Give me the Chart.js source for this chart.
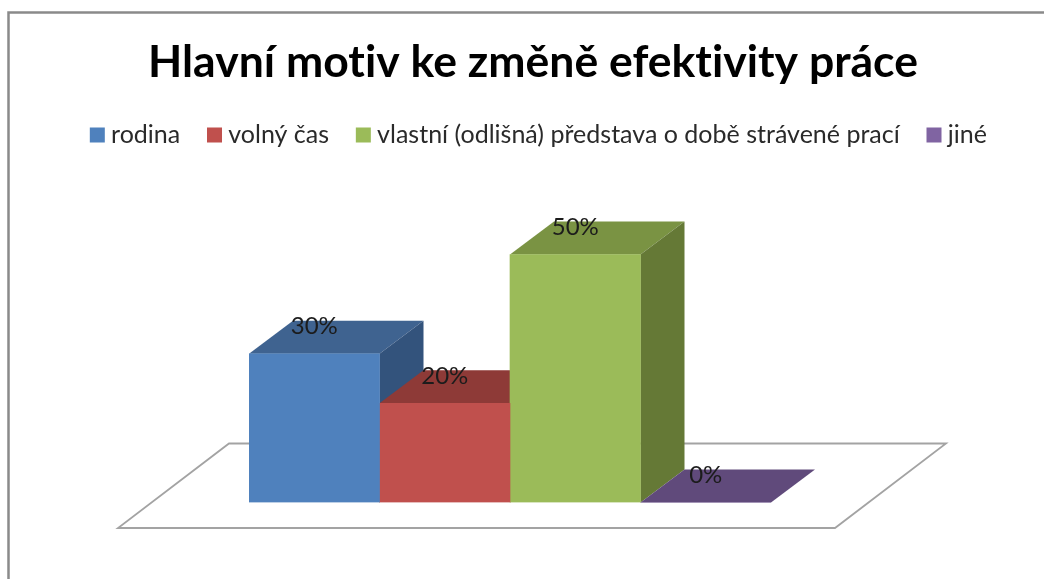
<!DOCTYPE html>
<html lang="cs">
<head>
<meta charset="utf-8">
<title>Hlavní motiv ke změně efektivity práce</title>
<style>
  html, body { margin: 0; padding: 0; background: #fff; overflow: hidden; }
  canvas { display: block; }
</style>
<script src="https://cdn.jsdelivr.net/npm/chart.js@4/dist/chart.umd.min.js"></script>
</head>
<body>
<canvas id="chart" width="1044" height="579"></canvas>
<script>
const chartTitle = 'Hlavní motiv ke změně efektivity práce';
const categories = ['Hlavní motiv'];
const seriesNames = ['rodina', 'volný čas', 'vlastní (odlišná) představa o době strávené prací', 'jiné'];
const seriesValues = [30, 20, 50, 0];
const frontColors = ['#4F81BD', '#C0504D', '#9BBB59', '#8064A2'];
const topColors = ['#3F6390', '#8E3A37', '#7A9343', '#604A7B'];
const sideColors = ['#33537C', '#7A302E', '#657936', '#503D68'];

const FONT = 'Lato, Carlito, Calibri, sans-serif';
const DEPTH_X = 44;
const DEPTH_Y = 33;

function polygon(ctx, pts, fill, stroke, lineWidth) {
  ctx.beginPath();
  pts.forEach(([x, y], i) => (i ? ctx.lineTo(x, y) : ctx.moveTo(x, y)));
  ctx.closePath();
  if (fill) { ctx.fillStyle = fill; ctx.fill(); }
  if (stroke) { ctx.strokeStyle = stroke; ctx.lineWidth = lineWidth; ctx.stroke(); }
}

// A tiny letter spacing keeps the "ti" pairs as separate glyphs instead of a ligature.
const glyphPlugin = {
  id: 'glyphs',
  beforeUpdate(chart) { chart.ctx.letterSpacing = '0.01px'; },
  beforeDraw(chart) { chart.ctx.letterSpacing = '0.01px'; }
};

// Outer frame, open on the right and at the bottom.
const framePlugin = {
  id: 'frame',
  beforeDraw(chart) {
    const { ctx, width, height } = chart;
    ctx.save();
    ctx.fillStyle = '#fff';
    ctx.fillRect(0, 0, width, height);
    ctx.beginPath();
    ctx.moveTo(8.5, height);
    ctx.lineTo(8.5, 12.5);
    ctx.lineTo(width, 12.5);
    ctx.strokeStyle = '#8A8A8A';
    ctx.lineWidth = 2.5;
    ctx.stroke();
    ctx.restore();
  }
};

// Moves the legend row slightly right of the title's centre line.
const legendShiftPlugin = {
  id: 'legendShift',
  afterLayout(chart) {
    chart.legend.left += 8.5;
    chart.legend.right += 8.5;
  }
};

// Floor plane plus the top and side faces of each column; the front faces are the library's bars.
const extrusionPlugin = {
  id: 'extrusion',
  beforeDatasetsDraw(chart) {
    const { ctx, chartArea } = chart;
    const base = chart.scales.y.getPixelForValue(0);
    ctx.save();
    polygon(ctx, [
      [chartArea.left - 131, base + 25.5],
      [chartArea.right + 64, base + 25.5],
      [chartArea.right + 175, base - 59],
      [chartArea.left - 20, base - 59]
    ], '#fff', '#A3A3A3', 1.8);
    seriesValues.forEach((_, i) => {
      const bar = chart.getDatasetMeta(i).data[0];
      const left = bar.x - bar.width / 2;
      const right = bar.x + bar.width / 2;
      polygon(ctx, [
        [left, bar.y], [left + DEPTH_X, bar.y - DEPTH_Y],
        [right + DEPTH_X, bar.y - DEPTH_Y], [right, bar.y]
      ], topColors[i]);
      polygon(ctx, [
        [right, bar.y], [right + DEPTH_X, bar.y - DEPTH_Y],
        [right + DEPTH_X, base - DEPTH_Y], [right, base]
      ], sideColors[i]);
    });
    ctx.restore();
  }
};

// Value labels sit over the top face of each column.
const valueLabelPlugin = {
  id: 'valueLabels',
  afterDatasetsDraw(chart) {
    const { ctx } = chart;
    ctx.save();
    ctx.font = `24px ${FONT}`;
    ctx.fillStyle = '#1C1C1C';
    ctx.textAlign = 'center';
    ctx.textBaseline = 'middle';
    seriesValues.forEach((value, i) => {
      const bar = chart.getDatasetMeta(i).data[0];
      ctx.fillText(`${value}%`, bar.x, bar.y - 27);
    });
    ctx.restore();
  }
};

new Chart(document.getElementById('chart'), {
  type: 'bar',
  data: {
    labels: categories,
    datasets: seriesNames.map((name, i) => ({
      label: name,
      data: [seriesValues[i]],
      backgroundColor: frontColors[i],
      borderWidth: 0,
      categoryPercentage: 1,
      barPercentage: 1
    }))
  },
  plugins: [glyphPlugin, framePlugin, legendShiftPlugin, extrusionPlugin, valueLabelPlugin],
  options: {
    responsive: false,
    animation: false,
    layout: { padding: { left: 22, right: 0, top: 0, bottom: 0 } },
    plugins: {
      title: {
        display: true,
        text: chartTitle,
        color: '#000',
        font: { family: FONT, size: 44.5, weight: 'bold', lineHeight: 1.2 },
        padding: { top: 36, bottom: 0 }
      },
      legend: {
        display: true,
        position: 'top',
        labels: {
          color: '#2A2A2A',
          font: { family: FONT, size: 25 },
          boxWidth: 2.5,
          boxHeight: 2.5,
          padding: 33,
          generateLabels(chart) {
            return Chart.defaults.plugins.legend.labels.generateLabels(chart).map(item => ({
              ...item,
              lineWidth: 12.5,
              strokeStyle: item.fillStyle
            }));
          }
        }
      },
      tooltip: { enabled: false }
    },
    scales: {
      x: {
        display: false,
        afterFit(scale) { scale.height = 76.5; }
      },
      y: {
        display: false,
        min: 0,
        max: 69.6,
        afterFit(scale) { scale.width = 227; }
      },
      rightGutter: {
        display: false,
        position: 'right',
        afterFit(scale) { scale.width = 273; }
      }
    }
  }
});
</script>
</body>
</html>
